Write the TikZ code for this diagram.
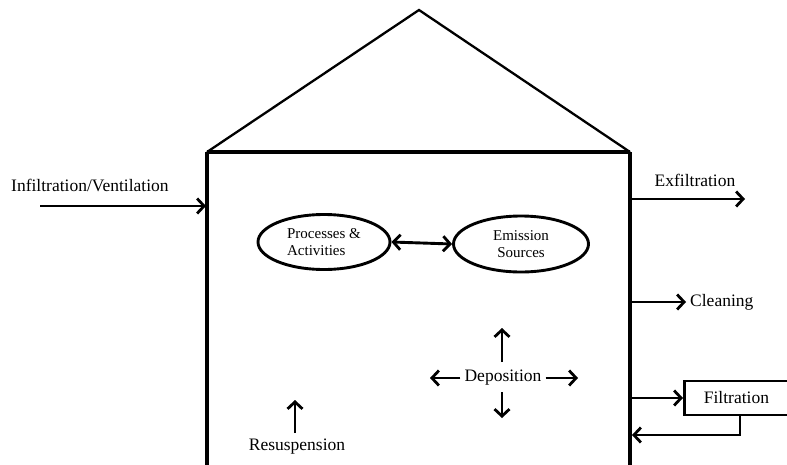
\documentclass[tikz,border=0pt]{standalone}
\usepackage{fontspec}
\setmainfont{Liberation Serif}
\usetikzlibrary{arrows.meta,shapes.geometric}
\begin{document}
\begin{tikzpicture}[x=1pt,y=-1pt,
  wall/.style={line width=3.3pt},
  roofline/.style={line width=2.3pt},
  tip/.tip={Straight Barb[length=7pt,width=15pt,line width=2.8pt]},
  flow/.style={line width=2.9pt,-tip},
  biflow/.style={line width=2.9pt,tip-tip},
  lbl/.style={font=\fontsize{17.5}{20}\selectfont,inner sep=1pt},
  elbl/.style={font=\fontsize{15}{17}\selectfont,align=left},
  ell/.style={draw,line width=2.9pt,ellipse,minimum width=132pt,minimum height=55pt,inner sep=0pt}
]
\useasboundingbox (0,0) rectangle (787,464);
% house
\coordinate (apex) at (419,10);
\coordinate (tl) at (207,152);
\coordinate (tr) at (630,152);
\coordinate (bl) at (207,466);
\coordinate (br) at (630,466);
\draw[roofline] (tl) -- (apex) -- (tr);
\draw[wall] (tl) -- (tr);
\draw[wall] (tl) -- (bl);
\draw[wall] (tr) -- (br);
% infiltration
\node[lbl,anchor=west] (inf) at (10,185) {Infiltration/Ventilation};
\coordinate (infs) at (40,206);
\coordinate (infe) at (206,206);
\draw[flow] (infs) -- (infe);
% exfiltration
\node[lbl] (exf) at (695,180) {Exfiltration};
\coordinate (exs) at (631,199);
\coordinate (exe) at (745,199);
\draw[flow] (exs) -- (exe);
% cleaning
\node[lbl,anchor=west,inner xsep=4pt] (cln) at (686,302) {Cleaning};
\coordinate (cls) at (631,302);
\draw[flow] (cls) -- (cln.west);
% filtration
\node[draw,line width=2.9pt,lbl,minimum width=104pt,minimum height=34pt,anchor=west] (filt) at (683,398) {Filtration};
\coordinate (fis) at (631,398);
\draw[flow] (fis) -- (filt.west);
\coordinate (fr1) at (740,435);
\coordinate (fwall) at (632,435);
\draw[flow] (filt.south -| fr1) -- (fr1) -- (fwall);
% ellipses
\node[ell] (proc) at (324,242) {};
\node[elbl] at (proc.center) {Processes \&\\Activities};
\node[ell,minimum width=135pt,minimum height=56pt] (emis) at (521,244) {};
\node[elbl,align=center] at (emis.center) {Emission\\Sources};
\draw[biflow] (proc.east) -- (emis.west);
% deposition
\node[lbl] (dep) at (503,378) {Deposition};
\coordinate (du) at (502,328);
\coordinate (dd) at (502,418);
\coordinate (dl) at (430,378);
\coordinate (dr) at (578,378);
\draw[flow] (502,362) -- (du);
\draw[flow] (502,392) -- (dd);
\draw[flow] (dep.west) ++(-3,0) -- (dl);
\draw[flow] (dep.east) ++(3,0) -- (dr);
% resuspension
\node[lbl] (res) at (297,447) {Resuspension};
\coordinate (ru) at (295,400);
\draw[flow] (295,433) -- (ru);
\end{tikzpicture}
\end{document}
